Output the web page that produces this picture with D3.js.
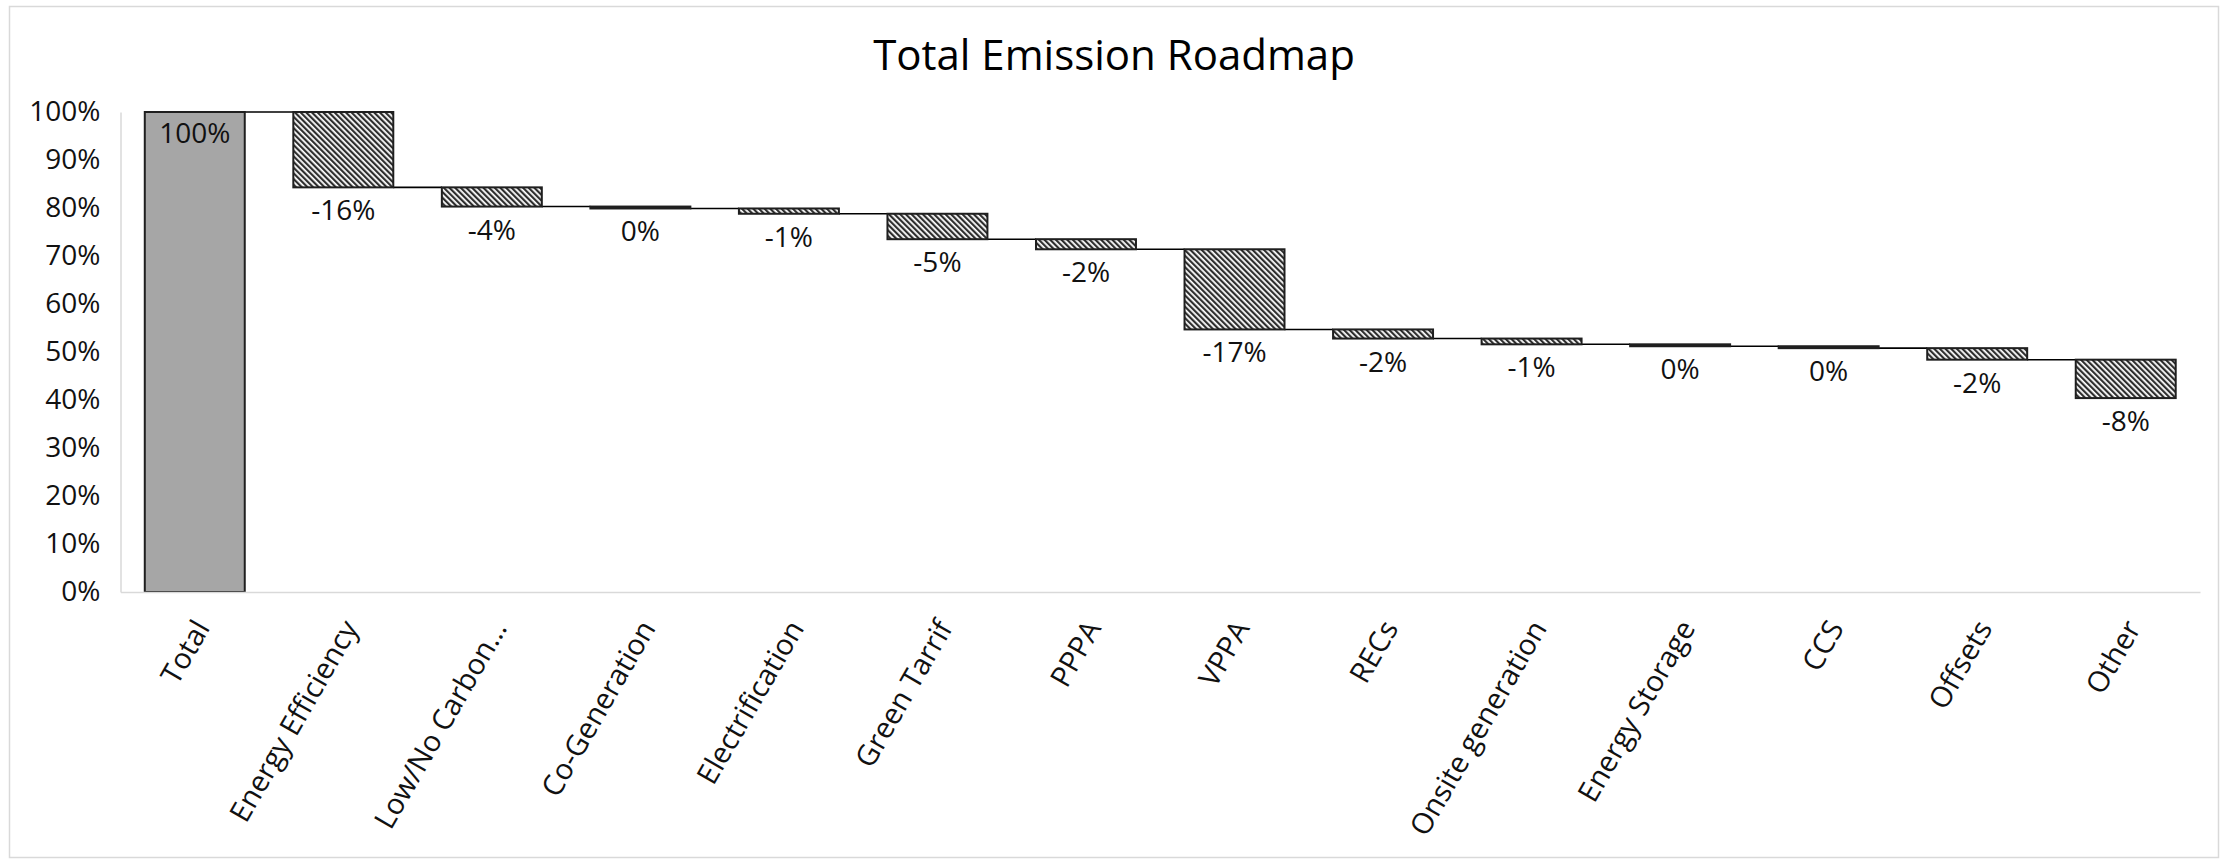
<!DOCTYPE html>
<html>
<head>
<meta charset="utf-8">
<script src="https://cdn.jsdelivr.net/npm/d3@7"></script>
<style>
  html, body { margin: 0; padding: 0; background: #fff; }
  svg { display: block; }
  text { font-family: "Open Sans", "Noto Sans", sans-serif; }
</style>
</head>
<body>
<svg id="chart" width="2223" height="864"></svg>
<script>
// Waterfall: starting total followed by the reduction from each lever
const chartTitle = "Total Emission Roadmap";
const categories = [
  "Total", "Energy Efficiency", "Low/No Carbon…", "Co-Generation",
  "Electrification", "Green Tarrif", "PPPA", "VPPA", "RECs",
  "Onsite generation", "Energy Storage", "CCS", "Offsets", "Other"
];
const changes = [
  1.00, -0.157, -0.040, -0.004, -0.011, -0.053, -0.021,
  -0.167, -0.019, -0.012, -0.004, -0.004, -0.024, -0.080
];
const yTicks = [0, 0.1, 0.2, 0.3, 0.4, 0.5, 0.6, 0.7, 0.8, 0.9, 1.0];

const W = 2223, H = 864;
const plot = { left: 120.5, right: 2200, top: 112, bottom: 592 };

const svg = d3.select("#chart");

// running level of each step
let level = 0;
const steps = categories.map((c, i) => {
  const isTotal = i === 0;
  const start = isTotal ? 0 : level;
  const end = isTotal ? changes[i] : level + changes[i];
  level = end;
  return { cat: c, value: changes[i], start, end, isTotal };
});

const x = d3.scaleBand()
  .domain(categories)
  .range([plot.left, plot.right])
  .paddingInner(0.327)
  .paddingOuter(0.1635);

const y = d3.scaleLinear().domain([0, 1]).range([plot.bottom, plot.top]);

// hatch fill for the reduction bars
const defs = svg.append("defs");
const pat = defs.append("pattern")
  .attr("id", "hatch")
  .attr("patternUnits", "userSpaceOnUse")
  .attr("width", 4)
  .attr("height", 4)
  .attr("patternTransform", "rotate(-45)");
pat.append("rect").attr("width", 4).attr("height", 4).attr("fill", "#ffffff");
pat.append("rect").attr("width", 2.2).attr("height", 4).attr("fill", "#2e2e2e");

// background and outer frame
svg.append("rect").attr("width", W).attr("height", H).attr("fill", "#fff");
svg.append("rect")
  .attr("x", 9.5).attr("y", 6.5)
  .attr("width", 2209).attr("height", 851)
  .attr("fill", "none").attr("stroke", "#d9d9d9").attr("stroke-width", 1.5);

// title
svg.append("text")
  .attr("x", 1114).attr("y", 70)
  .attr("text-anchor", "middle")
  .attr("font-size", 42)
  .attr("fill", "#000")
  .text(chartTitle);

// y axis
const yAxis = d3.axisLeft(y)
  .tickValues(yTicks)
  .tickSize(0)
  .tickPadding(20)
  .tickFormat(d3.format(".0%"));
const gy = svg.append("g")
  .attr("transform", `translate(${plot.left},0)`)
  .call(yAxis);
gy.select(".domain").attr("stroke", "#d9d9d9").attr("stroke-width", 1.5);
gy.selectAll("text")
  .attr("font-size", 28)
  .attr("fill", "#111")
  .attr("font-family", "Open Sans, sans-serif");

// connectors between consecutive steps
svg.append("g").selectAll("line")
  .data(steps.slice(0, -1))
  .join("line")
  .attr("x1", (d) => x(d.cat) + x.bandwidth())
  .attr("x2", (d, i) => x(steps[i + 1].cat))
  .attr("y1", (d) => y(d.end))
  .attr("y2", (d) => y(d.end))
  .attr("stroke", "#000")
  .attr("stroke-width", 1.6);

// bars
svg.append("g").selectAll("rect")
  .data(steps)
  .join("rect")
  .attr("x", (d) => x(d.cat))
  .attr("width", x.bandwidth())
  .attr("y", (d) => y(Math.max(d.start, d.end)))
  .attr("height", (d) => Math.abs(y(d.start) - y(d.end)))
  .attr("fill", (d) => d.isTotal ? "#a6a6a6" : "url(#hatch)")
  .attr("stroke", "#1f1f1f")
  .attr("stroke-width", 2);

// x axis
const xAxis = d3.axisBottom(x).tickSize(0).tickPadding(0);
const gx = svg.append("g")
  .attr("transform", `translate(0,${plot.bottom})`)
  .call(xAxis);
gx.select(".domain").attr("stroke", "#d9d9d9").attr("stroke-width", 1.5);
gx.selectAll(".tick text")
  .attr("font-size", 29)
  .attr("fill", "#111")
  .attr("font-family", "Open Sans, sans-serif")
  .attr("text-anchor", "end")
  .attr("dy", null)
  .attr("y", null)
  .attr("transform", "translate(16,36) rotate(-60)");

// value labels
const pct = (v) => {
  const r = Math.round(v * 100);
  return (r === 0 ? 0 : r) + "%";
};
svg.append("g").selectAll("text")
  .data(steps)
  .join("text")
  .attr("x", (d) => x(d.cat) + x.bandwidth() / 2)
  .attr("y", (d) => d.isTotal
    ? y(d.end) + 31
    : y(Math.min(d.start, d.end)) + 33)
  .attr("text-anchor", "middle")
  .attr("font-size", 28)
  .attr("fill", "#111")
  .text((d) => pct(d.value));
</script>
</body>
</html>
